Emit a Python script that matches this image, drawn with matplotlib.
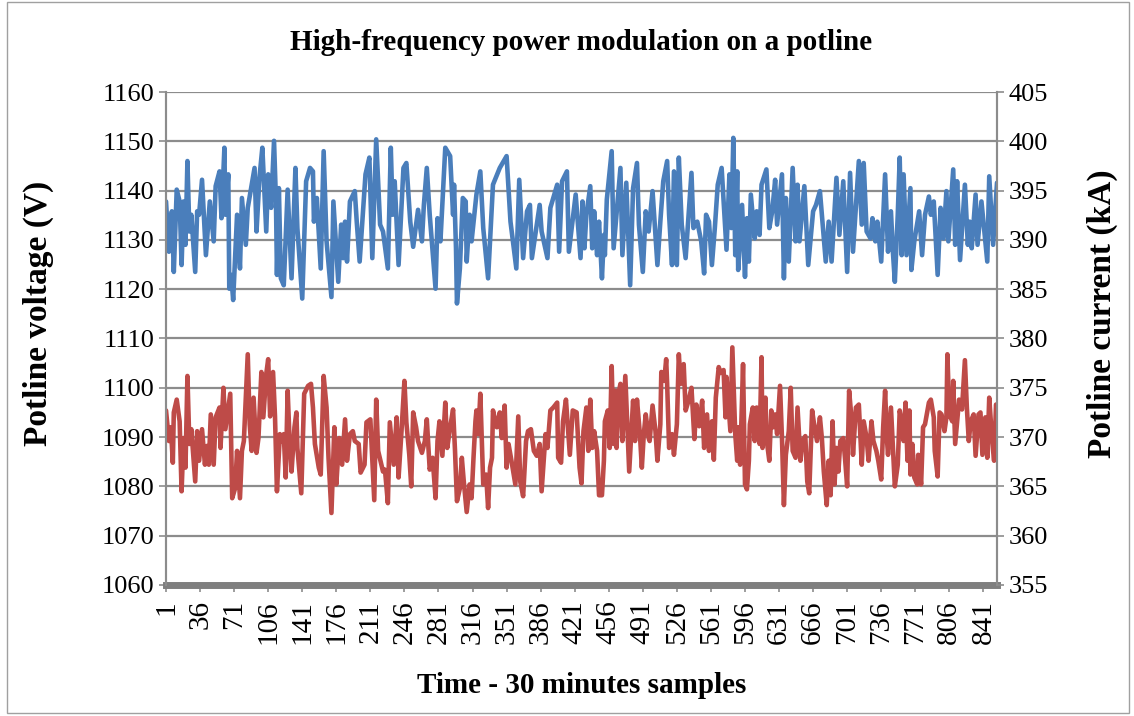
import matplotlib
matplotlib.use("Agg")
from matplotlib import pyplot as plt
from matplotlib.patches import Rectangle

# potline voltage (V) at its turning points
volt_x = [1, 4, 7, 9, 12, 15, 17, 19, 21, 23, 25, 27, 31, 33, 35, 38, 42, 46, 50, 52, 56, 58, 61, 62, 65, 66, 68, 70,
          74, 77, 79, 83, 85, 92, 94, 97, 100, 104, 106, 109, 112, 114, 115, 117, 119, 122, 126, 130, 134, 136, 141,
          145, 149, 152, 153, 156, 160, 163, 166, 171, 173, 178, 181, 183, 185, 187, 190, 195, 197, 200, 206, 210, 213,
          217, 221, 224, 229, 232, 234, 236, 240, 245, 248, 252, 255, 260, 264, 266, 269, 272, 278, 280,
          283, 288, 293, 296, 297, 299, 300, 303, 306, 309, 310, 313, 315, 320, 324, 327, 332, 337, 344, 351, 355, 361,
          364, 367, 368, 372, 375, 377, 385, 387, 393, 396, 403, 405, 408, 413, 415, 422,
          427, 429, 431, 433, 437, 439, 441, 444, 446, 449, 451, 452, 454, 459, 461, 468, 470, 474, 476, 478, 481, 485,
          487, 491, 494, 497, 501, 506, 509, 512, 516, 518, 521, 523, 526, 528, 531, 535, 541, 543, 547, 551, 554, 556,
          559, 562, 565, 568, 572,
          577, 580, 582, 584, 586, 588, 589, 593, 596, 598, 600, 602, 606, 608, 611, 613, 618, 621, 624, 627, 629, 634,
          636, 638, 641, 645, 648, 650, 652, 657, 661, 666, 669, 673, 675, 679, 682, 685, 690, 693, 697, 701, 704, 707,
          713, 716,
          718, 721, 725, 727, 730, 732, 736, 740, 743, 746, 748, 750, 753, 755, 757, 759, 762, 766, 767, 770, 775, 778,
          781, 785, 787, 790, 794, 797, 800, 803, 805, 810, 812, 814, 817, 822, 825, 827, 829, 833, 835, 839, 845, 847,
          851, 855]
volt_v = [1137.8, 1127.6, 1135.8, 1123.5, 1140.2, 1137.8, 1124.9, 1137.8, 1129.0, 1146.0, 1131.7, 1135.1, 1123.5,
          1135.8, 1135.1, 1142.2, 1126.9, 1137.8, 1129.7, 1140.9, 1143.9, 1134.4, 1148.7, 1135.1, 1143.3, 1120.1,
          1122.9, 1117.8, 1135.1, 1124.2, 1138.5, 1129.0, 1136.5, 1144.6, 1131.7, 1142.6, 1148.7, 1131.7, 1143.3,
          1136.5, 1150.1, 1137.8, 1122.9, 1140.5, 1122.2, 1120.8, 1140.2, 1122.2, 1144.6, 1132.4, 1118.1,
          1141.9, 1144.6, 1143.9, 1133.7, 1138.5, 1124.2, 1148.0, 1129.7, 1118.4, 1137.8, 1121.5, 1133.1, 1126.3,
          1133.7, 1125.6, 1137.8, 1139.9, 1133.7, 1125.6, 1143.3, 1146.7, 1126.3, 1150.4, 1133.1, 1131.7, 1124.2,
          1148.7, 1135.1, 1141.9, 1124.9, 1144.6, 1145.6, 1133.7, 1128.6, 1136.1, 1129.7, 1137.1, 1144.6, 1135.1,
          1120.1, 1134.4,
          1129.7, 1148.7, 1147.0, 1135.1, 1141.2, 1128.3, 1117.1, 1124.2, 1138.5, 1137.8, 1125.6, 1135.1, 1129.7,
          1139.2, 1143.9, 1132.4, 1122.2, 1141.2, 1144.6, 1147.0, 1133.7, 1124.2, 1142.2, 1130.3, 1126.3, 1135.8,
          1137.1, 1126.3, 1137.1, 1131.7, 1126.3, 1136.5, 1141.2, 1127.6, 1141.9, 1143.9, 1127.6, 1139.2,
          1126.3, 1137.8, 1128.3, 1135.1, 1140.9, 1128.3, 1135.8, 1126.9, 1133.7, 1122.2, 1131.0, 1126.9, 1138.2,
          1148.0, 1128.3, 1144.6, 1126.9, 1141.6, 1131.0, 1120.8, 1140.5, 1145.6, 1133.1, 1123.5, 1135.8, 1131.7,
          1139.9, 1124.9, 1133.7, 1141.9, 1146.0, 1135.1, 1124.9, 1143.9, 1124.9, 1146.7, 1133.1, 1126.3, 1143.6,
          1132.4, 1133.7, 1129.7, 1123.2, 1135.1, 1133.7, 1124.9, 1132.4, 1141.2, 1144.6,
          1128.0, 1143.3, 1132.4, 1150.7, 1126.9, 1143.9, 1123.9, 1137.1, 1122.5, 1134.4, 1125.6, 1139.2, 1130.3,
          1135.8, 1131.0, 1141.2, 1144.3, 1132.4, 1135.8, 1142.2, 1133.1, 1143.3, 1122.2, 1138.5, 1125.6, 1144.6,
          1129.7, 1141.2, 1129.7, 1140.9, 1124.9, 1135.8, 1137.1, 1139.9, 1135.1, 1125.6, 1133.7, 1125.6, 1142.6,
          1131.0, 1141.9, 1123.5, 1143.6, 1127.6, 1146.0, 1133.1,
          1145.6, 1131.7, 1130.3, 1134.4, 1129.7, 1133.7, 1125.6, 1143.3, 1127.6, 1135.8, 1127.6, 1121.5, 1135.1,
          1146.7, 1126.9, 1143.3, 1126.9, 1140.5, 1123.9, 1129.7, 1135.8, 1126.9, 1135.1, 1138.8, 1135.1, 1137.8,
          1122.9, 1136.5, 1130.3, 1139.9, 1129.7, 1144.3, 1129.0, 1141.9, 1125.9, 1141.2, 1129.0, 1133.7, 1128.3,
          1139.2, 1129.0, 1137.8, 1125.6, 1142.9, 1129.0, 1141.6]

# potline current (kA)
curr_x = [1, 4, 6, 8, 9, 12, 15, 17, 19, 21, 23, 25, 27, 31, 33, 35, 38, 41, 43, 45, 47, 50, 52, 56, 57, 60, 62, 67,
          69, 72, 74, 77, 79, 81, 85, 87, 89, 91, 94, 96, 99, 101, 104, 106, 108, 111, 113, 115, 118, 120, 122, 124,
          126, 128, 130, 133, 135, 136, 140, 143,
          147, 150, 152, 154, 158, 160, 163, 166, 168, 171, 174, 176, 179, 182, 185, 187, 190, 193, 195, 199, 201,
          205, 207, 211, 213, 215, 217, 219, 224, 226, 229, 231, 235, 238, 240, 243, 246, 248, 251, 253, 255, 258,
          260, 264, 267, 269, 272, 275, 278, 280, 282, 285, 288,
          290, 293, 296, 298, 300, 303, 305, 307, 310, 313, 315, 317, 319, 320, 322, 324, 327, 330, 332, 334, 336,
          337, 341, 344, 346, 349, 351, 353, 356, 360, 363, 365, 368, 371, 373, 376, 379, 382, 385, 387, 391, 393,
          396, 399, 403, 404, 407, 409, 412, 415, 416, 419, 423, 426, 428,
          430, 433, 435, 437, 439, 441, 444, 446, 449, 451, 452, 455, 457, 459, 461, 463, 464, 466, 468, 470, 473,
          475, 477, 479, 481, 483, 485, 488, 490, 492, 494, 497, 498, 501, 504, 506, 509, 510, 513, 515, 516, 518,
          521, 523, 526, 528, 530, 533, 535, 538, 541, 544, 546, 549, 552, 554, 557, 559, 562, 564, 566, 569, 571,
          574,
          576, 577, 579, 581, 583, 586, 588, 589, 591, 594, 596, 598, 600, 601, 604, 606, 608, 611, 613, 614, 617,
          618, 621, 623, 625, 627, 629, 632, 634, 636, 638, 641, 643, 645, 648, 650, 653, 655, 658, 660, 662, 665,
          667, 670, 673, 675, 677, 680, 682, 684, 686, 688, 690, 692, 694, 697, 699, 701, 703, 706, 707, 710, 713,
          716, 718, 721, 723, 726, 728, 731, 733, 736, 738, 740, 742, 743, 746, 748, 750, 753, 755, 757, 759, 761,
          763, 765, 766, 768, 770, 773, 774, 777, 779, 781, 785, 787, 790, 791, 794, 796, 798, 801, 803, 804, 806,
          809, 810, 812, 814, 816, 819, 822, 824, 826, 828, 831, 833, 836, 838, 840, 843, 845, 847, 850, 852, 854,
          855]
curr_i = [372.7, 369.6, 371.0, 367.4, 372.5, 373.8, 371.6, 364.5, 369.9, 366.9, 376.2, 369.3, 370.8, 365.5, 370.6,
          367.6, 370.8, 367.2, 369.1, 367.2, 372.3, 367.2, 372.0, 373.0, 368.9, 375.0, 370.8, 374.4, 363.8, 364.8,
          368.6, 363.8, 368.6, 369.6, 378.4, 371.3, 368.6, 374.0, 368.4, 369.9, 376.6, 372.0, 376.4, 377.9, 372.1,
          376.6, 372.1, 364.5, 370.3, 369.6, 370.3, 365.9, 374.7, 369.6, 366.5, 371.0, 372.5, 368.9, 364.3, 374.4,
          375.2, 375.4, 373.0, 369.3, 366.9, 366.2, 376.2, 373.0, 367.9, 362.3, 371.0, 365.2, 369.9, 367.2, 371.8,
          367.6, 370.3, 370.6, 369.6, 369.3, 366.4, 367.2, 371.5, 371.8, 367.6, 363.6, 373.8, 368.6, 366.5, 366.7,
          363.3, 371.5, 367.2, 372.0, 365.9, 370.6, 375.7, 371.5, 368.2, 365.0, 372.5, 371.0, 369.6, 368.4, 369.6,
          371.8, 366.7, 367.9, 363.8, 369.6, 371.6, 368.1, 373.5,
          368.9, 371.0, 372.8, 368.6, 363.5, 364.8, 367.9, 365.5, 362.4, 365.2, 363.8, 367.9, 371.6, 372.7, 370.3,
          374.4, 365.2, 366.2, 362.8, 366.9, 367.9, 372.7, 371.0, 372.5, 369.9, 373.2, 366.9, 369.3, 367.6, 365.2,
          372.1, 365.5, 364.0, 369.6, 370.6, 370.8, 368.6, 368.1, 369.3, 364.5, 370.3, 368.9, 372.7, 373.0, 373.5,
          367.9, 367.4, 371.6, 373.8, 369.6, 368.2, 372.7, 372.5, 366.9, 365.3,
          370.6, 373.0, 368.6, 373.8, 368.9, 370.6, 368.6, 364.1, 364.1, 367.6, 371.6, 372.7, 368.9, 377.2, 369.3,
          374.7, 368.9, 374.4, 375.4, 369.6, 376.2, 371.3, 366.5, 370.1, 373.7, 369.6, 373.8, 370.3, 366.9, 370.3,
          372.3, 369.9, 369.6, 373.2, 370.6, 367.6, 371.3, 376.6, 375.7, 377.9, 375.4, 368.9, 370.3, 368.2, 371.3,
          378.4, 375.4, 377.4, 372.7, 373.7, 375.0, 369.8, 373.3, 371.1, 373.7, 368.9, 372.3, 368.6, 371.6, 367.7,
          374.0, 377.1, 376.5, 376.8,
          372.0, 376.1, 373.3, 370.6, 379.1, 370.3, 367.6, 371.0, 367.2, 377.4, 365.2, 364.7, 367.6, 371.3, 373.0,
          369.6, 373.0, 369.3, 378.1, 368.9, 374.0, 369.9, 367.6, 372.7, 371.0, 372.3, 370.3, 375.2, 369.9, 363.1,
          368.2, 370.6, 375.0, 368.6, 367.9, 373.0, 367.6, 369.6, 370.1, 365.5, 364.3, 372.7, 371.3, 369.6, 372.0,
          369.9, 366.5, 363.1, 367.6, 364.1, 371.6, 365.2, 368.9, 366.5, 369.6, 369.9, 367.6, 365.0, 374.7, 371.3,
          368.2, 373.0, 373.3,
          367.2, 371.6, 369.9, 367.6, 371.6, 369.6, 368.6, 367.6, 365.7, 371.0, 374.7, 369.6, 368.2, 373.0, 368.9,
          365.0, 367.2, 372.7, 371.6, 369.6, 373.5, 367.6, 372.7, 366.2, 369.3, 365.9, 365.2, 368.2, 365.2, 371.0,
          371.3, 373.5, 373.8, 372.0, 368.6, 366.0, 372.5, 372.3, 370.6, 372.0, 378.4, 372.3, 371.6, 375.7, 369.3,
          371.6, 373.8, 372.8, 377.8, 373.0, 369.6, 371.6, 372.3, 368.1, 372.3, 372.5, 368.2, 372.0, 367.9, 374.0,
          369.6, 367.6, 373.3, 373.0]

x_ticks = list(range(1, 842, 35))

plt.rcParams['font.family'] = ['Liberation Serif', 'DejaVu Serif']

fig = plt.figure(figsize=(11.34, 7.16), dpi=100)
ax = fig.add_axes([0.1464, 0.183, 0.7328, 0.6885])
ax2 = ax.twinx()

grid_c = '#8c8c8c'
ax.plot(volt_x, volt_v, color='#4A7EBB', lw=3.3, solid_joinstyle='round', solid_capstyle='round')
ax2.plot(curr_x, curr_i, color='#BE4B48', lw=3.3, solid_joinstyle='round', solid_capstyle='round')

ax.set_xlim(1, 855)
ax.set_ylim(1060, 1160)
ax2.set_ylim(355, 405)
ax.set_yticks(range(1060, 1161, 10))
ax2.set_yticks(range(355, 406, 5))
ax.set_xticks(x_ticks)
ax.set_xticklabels([str(t) for t in x_ticks], rotation=90, fontsize=21)

ax.yaxis.grid(True, color=grid_c, lw=1.6)
ax.set_axisbelow(True)

for a in (ax, ax2):
    a.spines['top'].set_visible(False)
    a.spines['left'].set_color(grid_c)
    a.spines['right'].set_color(grid_c)
    a.spines['left'].set_linewidth(1.5)
    a.spines['right'].set_linewidth(1.5)
    a.spines['bottom'].set_visible(False)
    a.tick_params(axis='y', colors=grid_c, labelcolor='black', labelsize=19, width=1.2, length=5)
ax.tick_params(axis='x', colors=grid_c, labelcolor='black', width=1.2, length=5, pad=6)
ax.axhline(1060, color='#7f7f7f', lw=5, zorder=5, clip_on=False)

fig.text(0.512, 0.941, 'High-frequency power modulation on a potline', fontsize=21,
         fontweight='bold', ha='center', va='center')
ax.set_ylabel('Potline voltage (V)', fontsize=24, fontweight='bold')
ax.yaxis.set_label_coords(-0.135, 0.55)
ax2.set_ylabel('Potline current (kA)', fontsize=24, fontweight='bold', rotation=90)
ax2.yaxis.set_label_coords(1.108, 0.55)
ax.set_xlabel('Time - 30 minutes samples', fontsize=21, fontweight='bold')
ax.xaxis.set_label_coords(0.5, -0.176)

fig.patches.append(Rectangle((0.006, 0.004), 0.99, 0.993, transform=fig.transFigure,
                             fill=False, edgecolor='#a0a0a0', lw=1))

fig.savefig('out.png', dpi=100)
